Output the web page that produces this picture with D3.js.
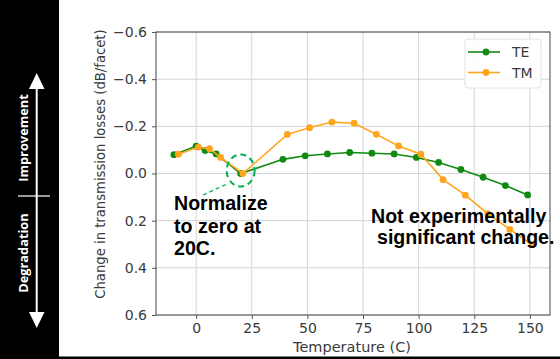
<!DOCTYPE html>
<html>
<head>
<meta charset="utf-8">
<script src="https://cdn.jsdelivr.net/npm/d3@7"></script>
<style>
  html, body { margin: 0; padding: 0; background: #fff; }
  svg { display: block; }
</style>
</head>
<body>
<svg id="chart" width="560" height="359"></svg>
<script>
// Temperatures (C) and change in transmission loss (dB/facet) for each mode
const teTemps  = [-10, 0, 4, 9, 20, 39, 49, 59, 69, 79, 89, 99, 109, 119, 129, 139, 149];
const teValues = [-0.080, -0.116, -0.098, -0.083, 0.0, -0.060, -0.075, -0.083, -0.089, -0.086, -0.083, -0.068, -0.047, -0.017, 0.016, 0.051, 0.091];
const tmTemps  = [-8, 1, 6, 11, 21, 41, 51, 61, 71, 81, 91, 101, 111, 121, 131, 141, 151];
const tmValues = [-0.082, -0.112, -0.105, -0.068, 0.0, -0.166, -0.194, -0.218, -0.213, -0.166, -0.117, -0.082, 0.026, 0.092, 0.170, 0.237, 0.302];

const xTicks = [0, 25, 50, 75, 100, 125, 150];
const yTicks = [-0.6, -0.4, -0.2, 0.0, 0.2, 0.4, 0.6];
const seriesNames = ["TE", "TM"];
const seriesColors = ["#118a11", "#ffa51c"];

const svg = d3.select("#chart");
const W = 560, H = 359;
const plot = { left: 156, top: 32, right: 550, bottom: 315 };
const labelFont = "'DejaVu Sans', sans-serif";
const labelColor = "#3a3a3a";

const x = d3.scaleLinear().domain([-18.05, 159.05]).range([plot.left, plot.right]);
const y = d3.scaleLinear().domain([-0.6, 0.6]).range([plot.top, plot.bottom]);

// Left side panel with the improvement / degradation arrow
const side = svg.append("g");
side.append("rect").attr("x", 0).attr("y", 0).attr("width", 59).attr("height", H).attr("fill", "#000");
side.append("line").attr("x1", 36.7).attr("x2", 36.7).attr("y1", 86).attr("y2", 314)
  .attr("stroke", "#fff").attr("stroke-width", 2);
side.append("path").attr("d", "M36.7,73 L29,89 L44.5,89 Z").attr("fill", "#fff");
side.append("path").attr("d", "M36.7,328 L29,312 L44.5,312 Z").attr("fill", "#fff");
side.append("line").attr("x1", 18).attr("x2", 50).attr("y1", 196).attr("y2", 196)
  .attr("stroke", "#fff").attr("stroke-width", 1.2);
const sideText = sel => sel.attr("text-anchor", "middle").attr("fill", "#fff")
  .style("font-family", "'Open Sans', sans-serif").style("font-weight", 700).style("font-size", "12.8px");
side.append("text").attr("transform", "translate(27.5,138) rotate(-90)").call(sideText).text("Improvement");
side.append("text").attr("transform", "translate(27.5,253) rotate(-90)").call(sideText).text("Degradation");
// bottom rule
svg.append("rect").attr("x", 0).attr("y", 356.5).attr("width", W).attr("height", 2.5).attr("fill", "#000");

// Grid
const grid = svg.append("g");
grid.selectAll(".gx").data(xTicks).enter().append("line")
  .attr("x1", d => x(d)).attr("x2", d => x(d)).attr("y1", plot.top).attr("y2", plot.bottom)
  .attr("stroke", "#d4d4d4").attr("stroke-width", 1);
grid.selectAll(".gy").data(yTicks).enter().append("line")
  .attr("x1", plot.left).attr("x2", plot.right).attr("y1", d => y(d)).attr("y2", d => y(d))
  .attr("stroke", "#d4d4d4").attr("stroke-width", 1);

// Axes
const fmtY = d => (d < 0 ? "\u2212" : "") + Math.abs(d).toFixed(1);
const xAxis = d3.axisBottom(x).tickValues(xTicks).tickSize(4).tickPadding(4).tickFormat(d3.format("d"));
const yAxis = d3.axisLeft(y).tickValues(yTicks).tickSize(4).tickPadding(5).tickFormat(fmtY);

const gx = svg.append("g").attr("transform", `translate(0,${plot.bottom})`).call(xAxis);
const gy = svg.append("g").attr("transform", `translate(${plot.left},0)`).call(yAxis);
[gx, gy].forEach(g => {
  g.select(".domain").remove();
  g.selectAll(".tick line").attr("stroke", "#555");
  g.selectAll(".tick text").attr("fill", labelColor)
    .style("font-family", labelFont).style("font-size", "14px");
});

// Frame
svg.append("rect").attr("x", plot.left).attr("y", plot.top)
  .attr("width", plot.right - plot.left).attr("height", plot.bottom - plot.top)
  .attr("fill", "none").attr("stroke", "#555").attr("stroke-width", 1.1);

// Axis titles
svg.append("text").attr("x", (plot.left + plot.right) / 2 - 1).attr("y", 352)
  .attr("text-anchor", "middle").attr("fill", labelColor)
  .style("font-family", labelFont).style("font-size", "14.5px")
  .text("Temperature (C)");
svg.append("text").attr("transform", "translate(104.5,164) rotate(-90)")
  .attr("text-anchor", "middle").attr("fill", labelColor)
  .style("font-family", labelFont).style("font-size", "13.2px")
  .text("Change in transmission losses (dB/facet)");

// Series
const series = [
  { name: seriesNames[0], color: seriesColors[0], pts: teTemps.map((t, i) => [t, teValues[i]]) },
  { name: seriesNames[1], color: seriesColors[1], pts: tmTemps.map((t, i) => [t, tmValues[i]]) }
];
const line = d3.line().x(d => x(d[0])).y(d => y(d[1]));
series.forEach(s => {
  const g = svg.append("g");
  g.append("path").attr("d", line(s.pts)).attr("fill", "none")
    .attr("stroke", s.color).attr("stroke-width", 1.6);
  g.selectAll("circle").data(s.pts).enter().append("circle")
    .attr("cx", d => x(d[0])).attr("cy", d => y(d[1])).attr("r", 3.4).attr("fill", s.color);
});

// Legend
const lg = svg.append("g");
lg.append("rect").attr("x", 465).attr("y", 39).attr("width", 76).attr("height", 49).attr("rx", 3)
  .attr("fill", "#fff").attr("fill-opacity", 0.85).attr("stroke", "#e2e2e2");
series.forEach((s, i) => {
  const ly = 52 + i * 20.5;
  lg.append("line").attr("x1", 468).attr("x2", 500).attr("y1", ly).attr("y2", ly)
    .attr("stroke", s.color).attr("stroke-width", 1.6);
  lg.append("circle").attr("cx", 486).attr("cy", ly).attr("r", 3.4).attr("fill", s.color);
  lg.append("text").attr("x", 512).attr("y", ly + 5).attr("fill", labelColor)
    .style("font-family", labelFont).style("font-size", "14px")
    .text(s.name);
});

// Annotations
const ann = svg.append("g");
ann.append("ellipse").attr("cx", x(20)).attr("cy", y(0) - 3).attr("rx", 14).attr("ry", 16)
  .attr("fill", "none").attr("stroke", "#00b050").attr("stroke-width", 2).attr("stroke-dasharray", "6,4");
ann.append("line").attr("x1", 203).attr("y1", 195).attr("x2", 227).attr("y2", 184)
  .attr("stroke", "#00b050").attr("stroke-width", 1.3).attr("stroke-dasharray", "4,3");

const annFont = sel => sel.attr("fill", "#000")
  .style("font-family", "'Liberation Sans', Arial, sans-serif").style("font-weight", 700).style("font-size", "19.6px");
["Normalize", "to zero at", "20C."].forEach((t, i) => {
  ann.append("text").attr("x", 174).attr("y", 210 + i * 22.5).call(annFont).text(t);
});
ann.append("text").attr("x", 371).attr("y", 223).call(annFont).text("Not experimentally");
ann.append("text").attr("x", 377).attr("y", 244).call(annFont).text("significant change.");
</script>
</body>
</html>
